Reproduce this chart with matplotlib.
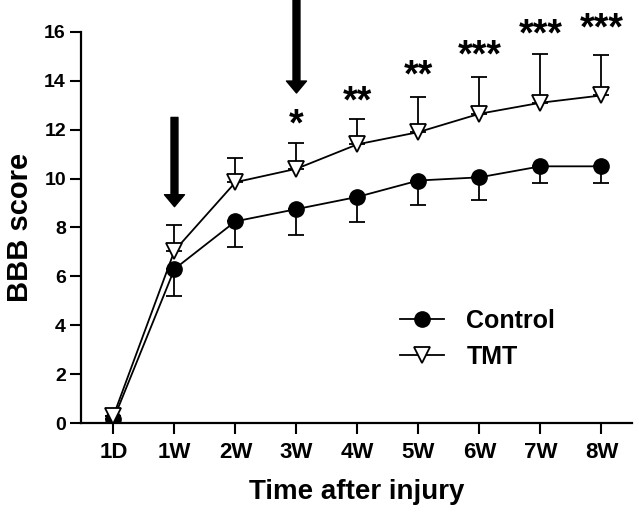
import numpy as np
import matplotlib
matplotlib.use("Agg")
import matplotlib.pyplot as plt

plt.rcParams['font.family'] = ['Liberation Sans', 'DejaVu Sans']
plt.rcParams['font.weight'] = 'bold'

timepoints = ['1D', '1W', '2W', '3W', '4W', '5W', '6W', '7W', '8W']
control = [0.15, 6.3, 8.25, 8.75, 9.25, 9.92, 10.05, 10.5, 10.5]
control_err = [0.0, 1.1, 1.03, 1.04, 1.03, 1.0, 0.92, 0.7, 0.7]
tmt = [0.3, 7.05, 9.85, 10.4, 11.4, 11.9, 12.65, 13.1, 13.4]
tmt_err = [0.0, 1.05, 0.98, 1.05, 1.05, 1.45, 1.5, 2.0, 1.65]
stars = ['', '', '', '*', '**', '**', '***', '***', '***']
star_y = [0, 0, 0, 12.6, 13.55, 14.6, 15.45, 16.3, 16.55]
arrow_at = [1, 3]
arrow_top = [12.5, 17.4]
arrow_tip = [8.85, 13.5]

x = np.arange(len(timepoints))

fig = plt.figure(figsize=(6.39, 5.14), dpi=100)
ax = fig.add_axes([0.127, 0.177, 0.862, 0.761])

# one-sided error bars: control below, TMT above
ax.errorbar(x, control, yerr=[control_err, np.zeros(len(x))], fmt='none',
            ecolor='black', elinewidth=1.3, capsize=5.5, capthick=1.3, zorder=2)
ax.errorbar(x, tmt, yerr=[np.zeros(len(x)), tmt_err], fmt='none',
            ecolor='black', elinewidth=1.3, capsize=5.5, capthick=1.3, zorder=2)

ax.plot(x, control, color='black', lw=1.3, marker='o', markersize=11,
        markerfacecolor='black', label='Control', zorder=3)
ax.plot(x, tmt, color='black', lw=1.3, marker='v', markersize=12,
        markerfacecolor='white', markeredgewidth=1.3, label='TMT', zorder=4)

for xi, s, sy in zip(x, stars, star_y):
    if s:
        ax.text(xi, sy - 0.85, s, ha='center', va='baseline', fontsize=27,
                fontweight='bold')

for xa, top, tip in zip(arrow_at, arrow_top, arrow_tip):
    ax.annotate('', xy=(xa, tip), xytext=(xa, top),
                arrowprops=dict(arrowstyle='simple,head_length=0.86,head_width=1.44,tail_width=0.5',
                                mutation_scale=10, color='black', shrinkA=0, shrinkB=0),
                annotation_clip=False)

ax.set_xlim(-0.53, 8.5)
ax.set_ylim(0, 16)
ax.set_yticks(np.arange(0, 17, 2))
ax.set_xticks(x)
ax.set_xticklabels(timepoints)
ax.tick_params(axis='x', direction='out', length=8, width=1.5, labelsize=16, pad=6)
ax.tick_params(axis='y', direction='out', length=8, width=1.5, labelsize=14, pad=3)
for lab in ax.get_xticklabels() + ax.get_yticklabels():
    lab.set_fontweight('bold')

for side in ['top', 'right']:
    ax.spines[side].set_visible(False)
for side in ['left', 'bottom']:
    ax.spines[side].set_linewidth(1.6)

ax.set_xlabel('Time after injury', fontsize=20, fontweight='bold', labelpad=11)
ax.set_ylabel('BBB score', fontsize=21, fontweight='bold', labelpad=7)

ax.legend(loc='center left', bbox_to_anchor=(0.579, 0.215), frameon=False,
          fontsize=18, handlelength=1.75, handletextpad=0.9, labelspacing=0.5,
          borderpad=0, borderaxespad=0)

fig.savefig('out.png', dpi=100)
